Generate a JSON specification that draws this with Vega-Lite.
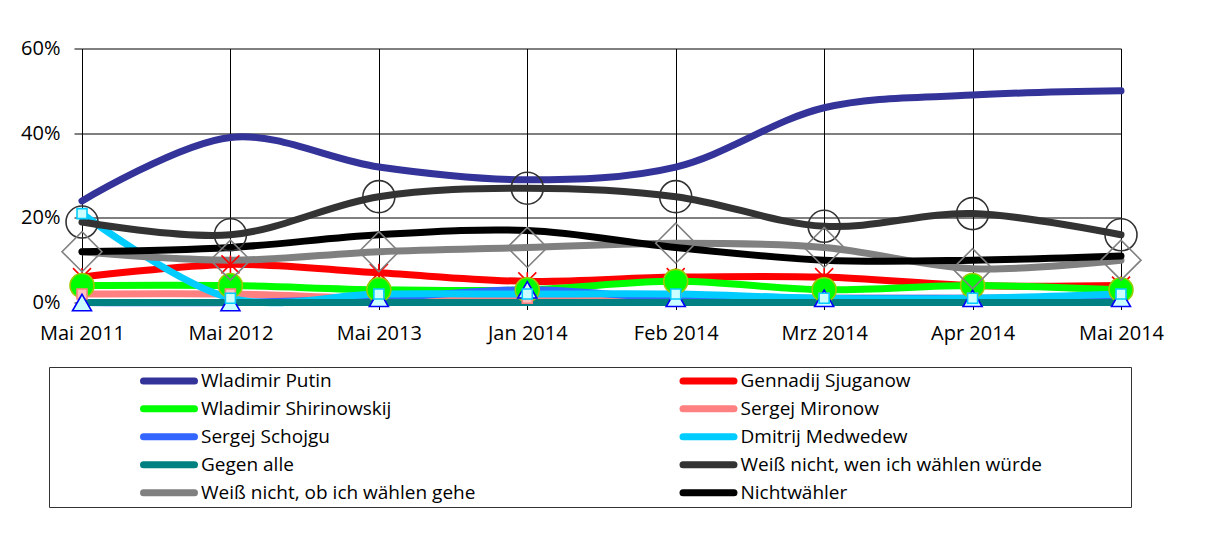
{
  "$schema": "https://vega.github.io/schema/vega-lite/v6.json",
  "autosize": "none",
  "width": 1039,
  "height": 254,
  "padding": {"left": 82, "top": 48.5, "right": 88, "bottom": 233.5},
  "background": "white",
  "config": {
    "font": "Open Sans",
    "view": {"stroke": null},
    "axis": {"labelFont": "Open Sans", "labelFontSize": 20, "labelColor": "black", "gridColor": "black", "gridOpacity": 1, "gridWidth": 1, "domainColor": "black", "tickColor": "black", "title": null}
  },
  "data": {
    "values": [
      {"Monat": "Mai 2011", "Wladimir Putin": 24, "Gennadij Sjuganow": 6, "Wladimir Shirinowskij": 4, "Sergej Mironow": 2, "Sergej Schojgu": 0, "Dmitrij Medwedew": 21, "Gegen alle": 0, "Weiß nicht, wen ich wählen würde": 19, "Weiß nicht, ob ich wählen gehe": 12, "Nichtwähler": 12},
      {"Monat": "Mai 2012", "Wladimir Putin": 39, "Gennadij Sjuganow": 9, "Wladimir Shirinowskij": 4, "Sergej Mironow": 2, "Sergej Schojgu": 0, "Dmitrij Medwedew": 1, "Gegen alle": 0, "Weiß nicht, wen ich wählen würde": 16, "Weiß nicht, ob ich wählen gehe": 10, "Nichtwähler": 13},
      {"Monat": "Mai 2013", "Wladimir Putin": 32, "Gennadij Sjuganow": 7, "Wladimir Shirinowskij": 3, "Sergej Mironow": 1, "Sergej Schojgu": 1, "Dmitrij Medwedew": 2, "Gegen alle": 0, "Weiß nicht, wen ich wählen würde": 25, "Weiß nicht, ob ich wählen gehe": 12, "Nichtwähler": 16},
      {"Monat": "Jan 2014", "Wladimir Putin": 29, "Gennadij Sjuganow": 5, "Wladimir Shirinowskij": 3, "Sergej Mironow": 1, "Sergej Schojgu": 3, "Dmitrij Medwedew": 2, "Gegen alle": 0, "Weiß nicht, wen ich wählen würde": 27, "Weiß nicht, ob ich wählen gehe": 13, "Nichtwähler": 17},
      {"Monat": "Feb 2014", "Wladimir Putin": 32, "Gennadij Sjuganow": 6, "Wladimir Shirinowskij": 5, "Sergej Mironow": 1, "Sergej Schojgu": 1, "Dmitrij Medwedew": 2, "Gegen alle": 0, "Weiß nicht, wen ich wählen würde": 25, "Weiß nicht, ob ich wählen gehe": 14, "Nichtwähler": 13},
      {"Monat": "Mrz 2014", "Wladimir Putin": 46, "Gennadij Sjuganow": 6, "Wladimir Shirinowskij": 3, "Sergej Mironow": 1, "Sergej Schojgu": 1, "Dmitrij Medwedew": 1, "Gegen alle": 0, "Weiß nicht, wen ich wählen würde": 18, "Weiß nicht, ob ich wählen gehe": 13, "Nichtwähler": 10},
      {"Monat": "Apr 2014", "Wladimir Putin": 49, "Gennadij Sjuganow": 4, "Wladimir Shirinowskij": 4, "Sergej Mironow": 1, "Sergej Schojgu": 1, "Dmitrij Medwedew": 1, "Gegen alle": 0, "Weiß nicht, wen ich wählen würde": 21, "Weiß nicht, ob ich wählen gehe": 8, "Nichtwähler": 10},
      {"Monat": "Mai 2014", "Wladimir Putin": 50, "Gennadij Sjuganow": 4, "Wladimir Shirinowskij": 3, "Sergej Mironow": 1, "Sergej Schojgu": 1, "Dmitrij Medwedew": 2, "Gegen alle": 0, "Weiß nicht, wen ich wählen würde": 16, "Weiß nicht, ob ich wählen gehe": 10, "Nichtwähler": 11}
    ]
  },
  "transform": [
    {"fold": ["Wladimir Putin", "Gennadij Sjuganow", "Wladimir Shirinowskij", "Sergej Mironow", "Sergej Schojgu", "Dmitrij Medwedew", "Gegen alle", "Weiß nicht, wen ich wählen würde", "Weiß nicht, ob ich wählen gehe", "Nichtwähler"], "as": ["Serie", "Wert"]}
  ],
  "encoding": {
    "x": {
      "field": "Monat", "type": "ordinal",
      "sort": ["Mai 2011", "Mai 2012", "Mai 2013", "Jan 2014", "Feb 2014", "Mrz 2014", "Apr 2014", "Mai 2014"],
      "scale": {"type": "point", "padding": 0},
      "axis": {"labelAngle": 0, "grid": true, "tickSize": 7, "labelPadding": 14, "domain": true}
    },
    "y": {
      "field": "Wert", "type": "quantitative",
      "scale": {"domain": [0, 60], "nice": false, "zero": true},
      "axis": {"values": [0, 20, 40, 60], "labelExpr": "datum.value + '%'", "grid": true, "tickSize": 8, "labelPadding": 14, "domain": true}
    }
  },
  "layer": [
    {
      "mark": {"type": "line", "interpolate": "catmull-rom", "strokeWidth": 7, "strokeCap": "round", "strokeJoin": "round"},
      "encoding": {
        "color": {
          "field": "Serie", "type": "nominal",
          "scale": {
            "domain": ["Wladimir Putin", "Gennadij Sjuganow", "Wladimir Shirinowskij", "Sergej Mironow", "Sergej Schojgu", "Dmitrij Medwedew", "Gegen alle", "Weiß nicht, wen ich wählen würde", "Weiß nicht, ob ich wählen gehe", "Nichtwähler"],
            "range": ["#333399", "#ff0000", "#00ff00", "#ff8080", "#3366ff", "#00ccff", "#008080", "#333333", "#808080", "#000000"]
          },
          "legend": {
            "orient": "none", "legendX": -33, "legendY": 318.5, "columns": 2, "direction": "horizontal",
            "symbolType": "M-2.833,0L2.833,0", "symbolStrokeWidth": 7, "symbolSize": 324, "symbolOffset": 107.5, "symbolFillColor": "transparent",
            "labelOffset": 19.5, "labelFontSize": 19, "labelFont": "Open Sans", "labelColor": "black", "labelLimit": 0,
            "clipHeight": 27.5,
            "rowPadding": 0, "columnPadding": 112.5, "padding": 0, "strokeColor": "#333333",
            "title": " ", "titleOrient": "right", "titlePadding": 88.5,
            "encode": {"symbols": {"update": {"strokeCap": {"value": "round"}}}}
          }
        }
      }
    },
    {
      "transform": [{"filter": {"field": "Serie", "oneOf": ["Gennadij Sjuganow", "Wladimir Shirinowskij", "Sergej Mironow", "Sergej Schojgu", "Dmitrij Medwedew", "Weiß nicht, wen ich wählen würde", "Weiß nicht, ob ich wählen gehe"]}}],
      "mark": {"type": "point", "filled": true, "strokeWidth": 1.6, "opacity": 1},
      "encoding": {
        "shape": {"field": "Serie", "type": "nominal", "legend": null, "scale": {
          "domain": ["Gennadij Sjuganow", "Wladimir Shirinowskij", "Sergej Mironow", "Sergej Schojgu", "Dmitrij Medwedew", "Weiß nicht, wen ich wählen würde", "Weiß nicht, ob ich wählen gehe"],
          "range": ["M-1,-1L1,1M-1,1L1,-1M0,-1L0,1", "circle", "square", "triangle-up", "square", "circle", "diamond"]}},
        "size": {"field": "Serie", "type": "nominal", "legend": null, "scale": {"type": "ordinal",
          "domain": ["Gennadij Sjuganow", "Wladimir Shirinowskij", "Sergej Mironow", "Sergej Schojgu", "Dmitrij Medwedew", "Weiß nicht, wen ich wählen würde", "Weiß nicht, ob ich wählen gehe"],
          "range": [324, 576, 100, 361, 100, 1024, 1600]}},
        "stroke": {"field": "Serie", "type": "nominal", "legend": null, "scale": {
          "domain": ["Gennadij Sjuganow", "Wladimir Shirinowskij", "Sergej Mironow", "Sergej Schojgu", "Dmitrij Medwedew", "Weiß nicht, wen ich wählen würde", "Weiß nicht, ob ich wählen gehe"],
          "range": ["#ff0000", "#99cc00", "#ff8080", "#0000ff", "#00ccff", "#333333", "#808080"]}},
        "fill": {"field": "Serie", "type": "nominal", "legend": null, "scale": {
          "domain": ["Gennadij Sjuganow", "Wladimir Shirinowskij", "Sergej Mironow", "Sergej Schojgu", "Dmitrij Medwedew", "Weiß nicht, wen ich wählen würde", "Weiß nicht, ob ich wählen gehe"],
          "range": ["transparent", "#00ff00", "#ffc0c0", "#ccffff", "#ccffff", "transparent", "transparent"]}}
      }
    }
  ]
}
